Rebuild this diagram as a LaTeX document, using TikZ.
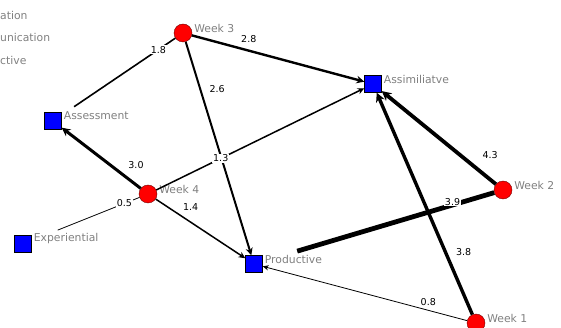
\documentclass[tikz,border=0pt]{standalone}
\usepackage{fontspec}
\setmainfont{DejaVu Sans}
\usetikzlibrary{arrows.meta}

\definecolor{tagGray}{RGB}{128,128,128}

\begin{document}
\begin{tikzpicture}[x=1pt, y=-1pt,
  week/.style={circle, fill=red, draw=red!45!black, minimum size=18pt, inner sep=0pt},
  mode/.style={rectangle, fill=blue, draw=black, minimum size=17pt, inner sep=0pt},
  tagtext/.style={text=tagGray, inner sep=2pt, font=\fontsize{10.8}{13}\selectfont},
  tag/.style={tagtext, yshift=5pt},
  wlbl/.style={inner sep=0.8pt, font=\fontsize{9.5}{11}\selectfont},
  cut/.style={fill=white},
  link/.style={-{Stealth[length=5pt 1.2, width=4pt 1.5]}}
]
\clip (0,0) rectangle (561,328);

% legend (cut off at the left)
\node[tagtext, anchor=west] (lega) at (-2,15) {ation};
\node[tagtext, anchor=west] (legb) at (-2,37) {unication};
\node[tagtext, anchor=west] (legc) at (-2,60) {ctive};

% weeks
\node[week, label={[tag]east:Week 3}] (w3) at (183,33) {};
\node[week, label={[tag]east:Week 4}] (w4) at (148,194) {};
\node[week, label={[tag]east:Week 2}] (w2) at (503,190) {};
\node[week, label={[tag]east:Week 1}] (w1) at (476,323) {};

% learning modes
\node[mode, label={[tag]east:Assimiliatve}] (asm) at (373,84) {};
\node[mode, label={[tag]east:Assessment}] (ass) at (53,121) {};
\node[mode, label={[tag]east:Experiential}] (exp) at (23,244) {};
\node[mode, label={[tag]east:Productive}] (prod) at (254,264) {};

% ties
\draw[link, line width=2.4pt] (w3) -- node[wlbl, pos=.33, yshift=12pt] {2.8} (asm);
\draw[link, line width=2pt] (w3) -- node[wlbl, pos=.22, xshift=17pt] {2.6} (prod);
\draw[line width=1.6pt, shorten >=15pt] (w3) -- node[wlbl, cut, pos=.15] {1.8} (ass);

\draw[link, line width=3pt] (w4) -- node[wlbl, pos=.3, xshift=19pt, yshift=5pt] {3.0} (ass);
\draw[link, line width=1.5pt] (w4) -- node[wlbl, cut, pos=.31] {1.3} (asm);
\draw[link, line width=1.5pt] (w4) -- node[wlbl, pos=.3, xshift=8pt, yshift=10pt] {1.4} (prod);
\draw[line width=0.8pt, shorten >=28pt] (w4) -- node[wlbl, cut, pos=.14] {0.5} (exp);

\draw[link, line width=3.8pt] (w2) -- node[wlbl, pos=.12, xshift=8pt, yshift=18pt] {4.3} (asm);
\draw[line width=4.8pt, shorten >=36pt] (w2) -- node[wlbl, cut, pos=.18, yshift=3pt] {3.9} (prod);

\draw[link, line width=3.4pt] (w1) -- node[wlbl, pos=.28, xshift=18pt] {3.8} (asm);
\draw[link, line width=0.8pt] (w1) -- node[wlbl, pos=.19, yshift=8pt] {0.8} (prod);

\end{tikzpicture}
\end{document}
